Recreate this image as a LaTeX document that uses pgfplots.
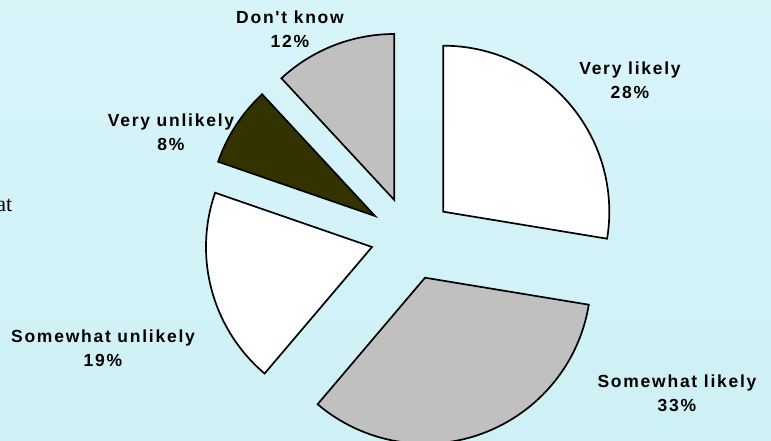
\documentclass[border=0pt]{standalone}
\usepackage{pgfplots}
\pgfplotsset{compat=1.18}
\usepackage{fontspec}
\setmainfont{Liberation Serif}
\newfontfamily\lbl[LetterSpace=10]{Liberation Sans}
\newfontfamily\serf{Liberation Serif}
\definecolor{bgtop}{RGB}{215,244,249}
\definecolor{bgbot}{RGB}{206,241,246}
\definecolor{sgray}{RGB}{192,192,192}
\definecolor{olive}{RGB}{51,51,0}
\tikzset{lab/.style={font=\lbl\bfseries\fontsize{17.5}{24}\selectfont, align=center, text=black}}

\begin{document}
\begin{tikzpicture}
% slice shares in percent, clockwise from 12 o'clock
\pgfmathsetmacro\aA{90}
\pgfmathsetmacro\aB{\aA-3.6*27.6}% Very likely
\pgfmathsetmacro\aC{\aB-3.6*33.6}% Somewhat likely
\pgfmathsetmacro\aD{\aC-3.6*19.1}% Somewhat unlikely
\pgfmathsetmacro\aE{\aD-3.6*7.8}% Very unlikely
\pgfmathsetmacro\aF{\aE-3.6*11.9}% Don't know
\def\R{166pt}
\clip (0,0) rectangle (771pt,440pt);
\begin{axis}[
    width=771pt, height=440pt, scale only axis,
    xmin=0, xmax=771, ymin=0, ymax=440,
    hide axis,
  ]
  \shade[top color=bgtop, bottom color=bgbot] (axis cs:0,0) rectangle (axis cs:771,440);
  \begin{scope}[draw=black, line width=1.7pt, line join=miter]
  \filldraw[fill=white] (axis cs:443.3,228.3) -- ++(\aA:\R) arc[start angle=\aA, end angle=\aB, radius=\R] -- cycle;
  \filldraw[fill=sgray] (axis cs:425.0,162.3) -- ++(\aB:\R) arc[start angle=\aB, end angle=\aC, radius=\R] -- cycle;
  \filldraw[fill=white] (axis cs:372.0,193.0) -- ++(\aC:\R) arc[start angle=\aC, end angle=\aD, radius=\R] -- cycle;
  \filldraw[fill=olive] (axis cs:375.0,224.0) -- ++(\aD:\R) arc[start angle=\aD, end angle=\aE, radius=\R] -- cycle;
  \filldraw[fill=sgray] (axis cs:394.3,240.0) -- ++(\aE:\R) arc[start angle=\aE, end angle=\aF, radius=\R] -- cycle;
  \end{scope}
  \node[lab] at (axis cs:630,360) {Very likely\\28\%};
  \node[lab] at (axis cs:677,47) {Somewhat likely\\33\%};
  \node[lab] at (axis cs:103,92) {Somewhat unlikely\\19\%};
  \node[lab] at (axis cs:171,308) {Very unlikely\\8\%};
  \node[lab] at (axis cs:290,411) {Don't know\\12\%};
  \node[anchor=base east, inner sep=0pt, font=\serf\fontsize{22}{24}\selectfont] at (axis cs:12.5,229) {at};
\end{axis}
\end{tikzpicture}
\end{document}
